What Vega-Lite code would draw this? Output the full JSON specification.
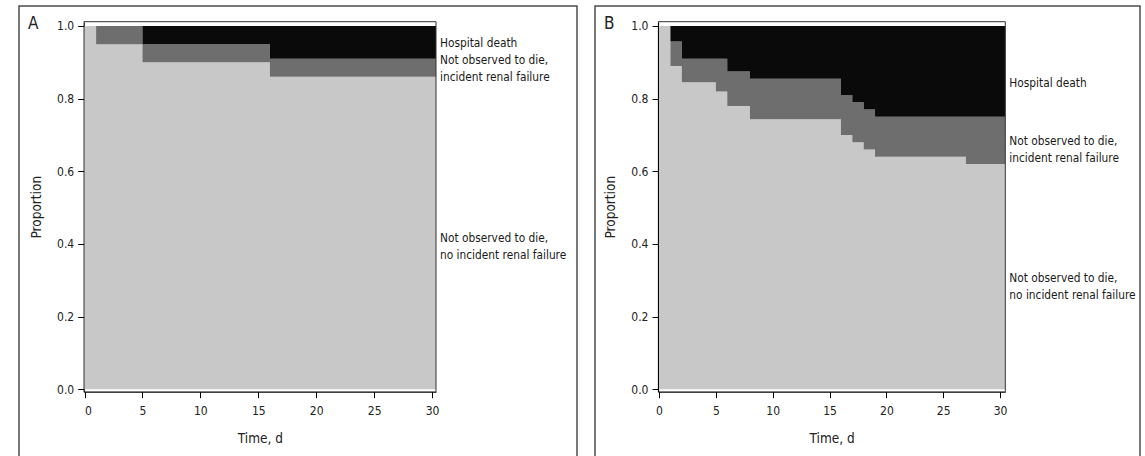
{
  "$schema": "https://vega.github.io/schema/vega-lite/v6.json",
  "padding": {"left": 18, "top": 5, "right": 0, "bottom": 0},
  "background": "white",
  "config": {
    "view": {"stroke": "#4d4d4d", "strokeWidth": 1.5},
    "font": "DejaVu Sans Condensed, Lato, sans-serif",
    "concat": {"spacing": 16},
    "axis": {
      "grid": false,
      "domainColor": "#000000",
      "domainWidth": 1.2,
      "tickColor": "#000000",
      "tickSize": 6,
      "labelColor": "#222222",
      "labelFontSize": 12,
      "labelFont": "DejaVu Sans Condensed, Lato, sans-serif",
      "titleFont": "DejaVu Sans Condensed, Lato, sans-serif",
      "titleFontSize": 13.5,
      "titleFontWeight": "normal",
      "titleColor": "#222222"
    },
    "title": {"font": "DejaVu Sans Condensed, Lato, sans-serif", "fontSize": 17, "fontWeight": "normal", "color": "#222222"}
  },
  "datasets": {
    "steps": [
      {"panel": "A", "t": 0, "L": 1.0, "U": 1.0},
      {"panel": "A", "t": 1, "L": 0.95, "U": 1.0},
      {"panel": "A", "t": 5, "L": 0.90, "U": 0.95},
      {"panel": "A", "t": 16, "L": 0.86, "U": 0.91},
      {"panel": "A", "t": 30.34, "L": 0.86, "U": 0.91},
      {"panel": "B", "t": 0, "L": 1.0, "U": 1.0},
      {"panel": "B", "t": 1, "L": 0.89, "U": 0.957},
      {"panel": "B", "t": 2, "L": 0.845, "U": 0.91},
      {"panel": "B", "t": 5, "L": 0.82, "U": 0.91},
      {"panel": "B", "t": 6, "L": 0.78, "U": 0.875},
      {"panel": "B", "t": 8, "L": 0.743, "U": 0.855},
      {"panel": "B", "t": 16, "L": 0.70, "U": 0.81},
      {"panel": "B", "t": 17, "L": 0.68, "U": 0.79},
      {"panel": "B", "t": 18, "L": 0.66, "U": 0.77},
      {"panel": "B", "t": 19, "L": 0.64, "U": 0.75},
      {"panel": "B", "t": 27, "L": 0.62, "U": 0.75},
      {"panel": "B", "t": 30.46, "L": 0.62, "U": 0.75}
    ],
    "labels": [
      {"panel": "A", "y": 0.953, "label": "Hospital death"},
      {"panel": "A", "y": 0.906, "label": "Not observed to die,|incident renal failure"},
      {"panel": "A", "y": 0.4166, "label": "Not observed to die,|no incident renal failure"},
      {"panel": "B", "y": 0.843, "label": "Hospital death"},
      {"panel": "B", "y": 0.684, "label": "Not observed to die,|incident renal failure"},
      {"panel": "B", "y": 0.305, "label": "Not observed to die,|no incident renal failure"}
    ]
  },
  "hconcat": [
    {
      "width": 558,
      "height": 470,
      "title": {"text": "A", "anchor": "start", "frame": "group", "offset": -27, "dx": 9},
      "layer": [
        {
          "data": {"name": "steps"},
          "transform": [{"filter": "datum.panel === 'A'"}],
          "mark": {"type": "area", "interpolate": "step-after", "color": "#c8c8c8"},
          "encoding": {
            "x": {"field": "t", "type": "quantitative", "title": "Time, d",
                  "scale": {"domain": [-0.07, 30.34], "range": [64.7, 417], "nice": false, "zero": false},
                  "axis": {"values": [0, 5, 10, 15, 20, 25, 30], "offset": -84.3, "labelPadding": 8, "titlePadding": 15}},
            "y": {"field": "L", "type": "quantitative", "title": "Proportion",
                  "scale": {"domain": [-0.0066, 1.0118], "range": [385.7, 15.7], "nice": false, "zero": false},
                  "axis": {"values": [0, 0.2, 0.4, 0.6, 0.8, 1.0], "format": ".1f", "offset": -64.7, "labelPadding": 4, "titlePadding": 13}},
            "y2": {"datum": 0}
          }
        },
        {
          "data": {"name": "steps"},
          "transform": [{"filter": "datum.panel === 'A'"}],
          "mark": {"type": "area", "interpolate": "step-after", "color": "#6e6e6e"},
          "encoding": {
            "x": {"field": "t", "type": "quantitative"},
            "y": {"field": "U", "type": "quantitative"},
            "y2": {"field": "L"}
          }
        },
        {
          "data": {"name": "steps"},
          "transform": [{"filter": "datum.panel === 'A'"}],
          "mark": {"type": "area", "interpolate": "step-after", "color": "#0a0a0a"},
          "encoding": {
            "x": {"field": "t", "type": "quantitative"},
            "y": {"field": "U", "type": "quantitative"},
            "y2": {"datum": 1}
          }
        },
        {
          "data": {"values": [{}]},
          "mark": {"type": "rule", "color": "#333333", "strokeWidth": 1},
          "encoding": {"x": {"datum": -0.07}, "x2": {"datum": 30.34}, "y": {"datum": 1.0118}}
        },
        {
          "data": {"values": [{}]},
          "mark": {"type": "rule", "color": "#333333", "strokeWidth": 1},
          "encoding": {"x": {"datum": 30.34}, "y": {"datum": -0.0066}, "y2": {"datum": 1.0118}}
        },
        {
          "data": {"name": "labels"},
          "transform": [{"filter": "datum.panel === 'A'"}],
          "mark": {"type": "text", "align": "left", "baseline": "middle", "dx": 4, "fontSize": 11.8, "lineHeight": 17, "lineBreak": "|", "color": "#1a1a1a"},
          "encoding": {
            "x": {"datum": 30.34},
            "y": {"field": "y", "type": "quantitative"},
            "text": {"field": "label", "type": "nominal"}
          }
        }
      ]
    },
    {
      "width": 545,
      "height": 470,
      "title": {"text": "B", "anchor": "start", "frame": "group", "offset": -27, "dx": 9},
      "layer": [
        {
          "data": {"name": "steps"},
          "transform": [{"filter": "datum.panel === 'B'"}],
          "mark": {"type": "area", "interpolate": "step-after", "color": "#c8c8c8"},
          "encoding": {
            "x": {"field": "t", "type": "quantitative", "title": "Time, d",
                  "scale": {"domain": [-0.09, 30.46], "range": [63, 410.3], "nice": false, "zero": false},
                  "axis": {"values": [0, 5, 10, 15, 20, 25, 30], "offset": -84.3, "labelPadding": 8, "titlePadding": 15}},
            "y": {"field": "L", "type": "quantitative", "title": "Proportion",
                  "scale": {"domain": [-0.0066, 1.0118], "range": [385.7, 15.7], "nice": false, "zero": false},
                  "axis": {"values": [0, 0.2, 0.4, 0.6, 0.8, 1.0], "format": ".1f", "offset": -63, "labelPadding": 4, "titlePadding": 13}},
            "y2": {"datum": 0}
          }
        },
        {
          "data": {"name": "steps"},
          "transform": [{"filter": "datum.panel === 'B'"}],
          "mark": {"type": "area", "interpolate": "step-after", "color": "#6e6e6e"},
          "encoding": {
            "x": {"field": "t", "type": "quantitative"},
            "y": {"field": "U", "type": "quantitative"},
            "y2": {"field": "L"}
          }
        },
        {
          "data": {"name": "steps"},
          "transform": [{"filter": "datum.panel === 'B'"}],
          "mark": {"type": "area", "interpolate": "step-after", "color": "#0a0a0a"},
          "encoding": {
            "x": {"field": "t", "type": "quantitative"},
            "y": {"field": "U", "type": "quantitative"},
            "y2": {"datum": 1}
          }
        },
        {
          "data": {"values": [{}]},
          "mark": {"type": "rule", "color": "#333333", "strokeWidth": 1},
          "encoding": {"x": {"datum": -0.09}, "x2": {"datum": 30.46}, "y": {"datum": 1.0118}}
        },
        {
          "data": {"values": [{}]},
          "mark": {"type": "rule", "color": "#333333", "strokeWidth": 1},
          "encoding": {"x": {"datum": 30.46}, "y": {"datum": -0.0066}, "y2": {"datum": 1.0118}}
        },
        {
          "data": {"name": "labels"},
          "transform": [{"filter": "datum.panel === 'B'"}],
          "mark": {"type": "text", "align": "left", "baseline": "middle", "dx": 4, "fontSize": 11.8, "lineHeight": 17, "lineBreak": "|", "color": "#1a1a1a"},
          "encoding": {
            "x": {"datum": 30.46},
            "y": {"field": "y", "type": "quantitative"},
            "text": {"field": "label", "type": "nominal"}
          }
        }
      ]
    }
  ]
}
